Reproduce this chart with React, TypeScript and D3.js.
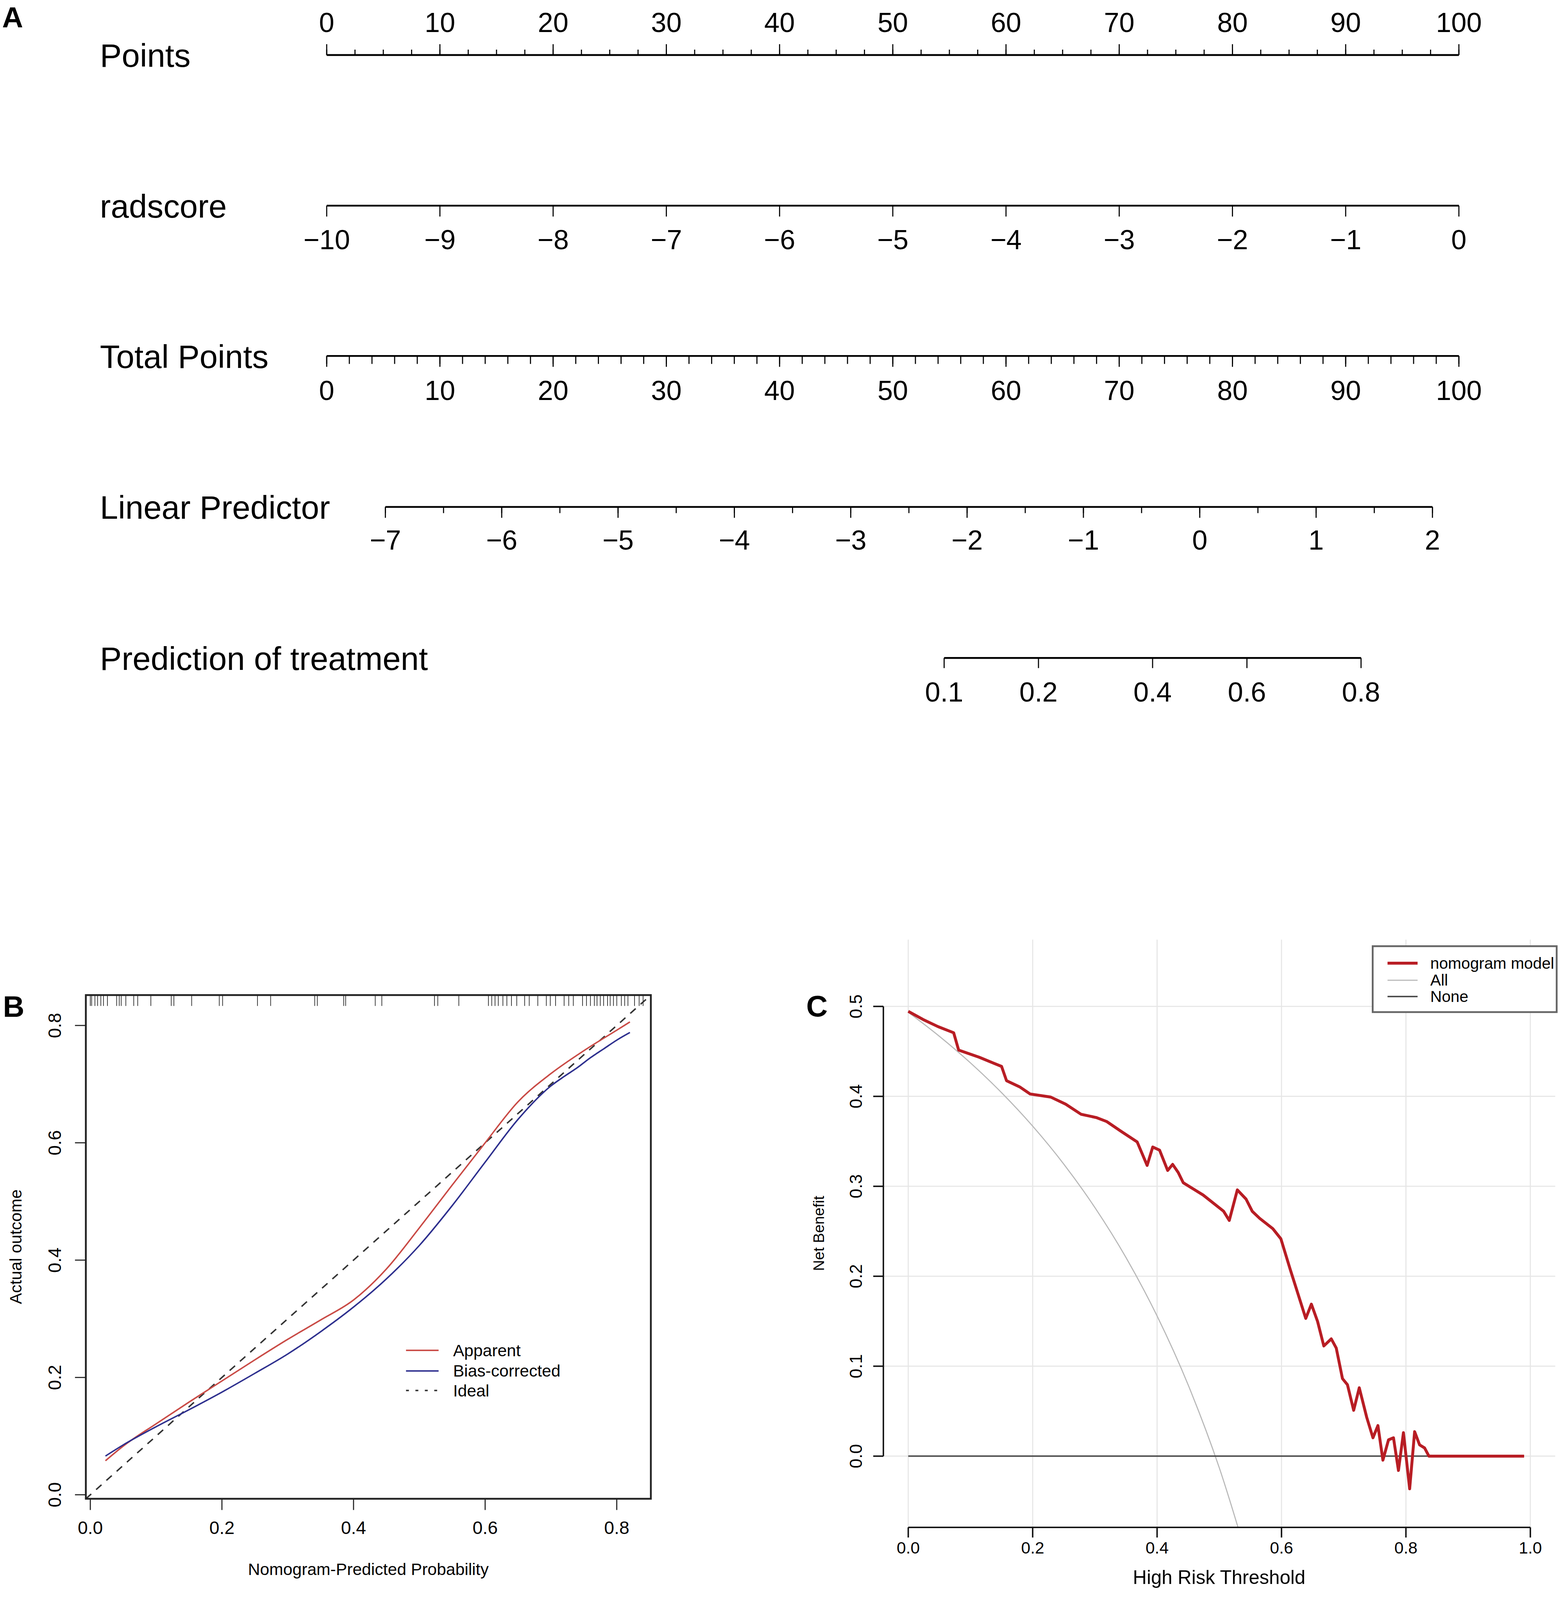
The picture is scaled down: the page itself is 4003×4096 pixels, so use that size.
import React from "react";
import * as d3 from "d3";

const W = 4003;
const H = 4096;
const K = 0.927;
const FONT = "'Liberation Sans', Arial, Helvetica, sans-serif";

// ---- panel A: nomogram ----
const rowNames = ["Points", "radscore", "Total Points", "Linear Predictor", "Prediction of treatment"];
const pointsTicks = [0, 10, 20, 30, 40, 50, 60, 70, 80, 90, 100];
const pointsMinorStep = 2.5;
const radscoreTicks = [-10, -9, -8, -7, -6, -5, -4, -3, -2, -1, 0];
const totalPointsTicks = [0, 10, 20, 30, 40, 50, 60, 70, 80, 90, 100];
const totalMinorStep = 2;
const lpTicks = [-7, -6, -5, -4, -3, -2, -1, 0, 1, 2];
const lpMinorStep = 0.5;
const predTicks = [0.1, 0.2, 0.4, 0.6, 0.8];

// ---- panel B: calibration ----
const calTicks = [0, 0.2, 0.4, 0.6, 0.8];
const apparentX = [0.023, 0.05, 0.1, 0.15, 0.2, 0.25, 0.3, 0.35, 0.4, 0.45, 0.5, 0.55, 0.6, 0.65, 0.7, 0.75, 0.8, 0.82];
const apparentY = [0.058, 0.083, 0.121, 0.158, 0.194, 0.23, 0.265, 0.298, 0.332, 0.385, 0.455, 0.528, 0.6, 0.67, 0.718, 0.757, 0.792, 0.806];
const biasX = [0.023, 0.05, 0.1, 0.15, 0.2, 0.25, 0.3, 0.35, 0.4, 0.45, 0.5, 0.55, 0.6, 0.65, 0.7, 0.72, 0.74, 0.76, 0.78, 0.8, 0.82];
const biasY = [0.066, 0.085, 0.116, 0.145, 0.175, 0.207, 0.24, 0.278, 0.32, 0.368, 0.425, 0.493, 0.567, 0.64, 0.697, 0.713, 0.728, 0.745, 0.76, 0.775, 0.788];
const rugValues = [0.0, 0.002, 0.007, 0.011, 0.016, 0.02, 0.026, 0.04, 0.044, 0.047, 0.054, 0.066, 0.072, 0.092, 0.123, 0.127,
  0.154, 0.196, 0.201, 0.254, 0.274, 0.341, 0.345, 0.385, 0.388, 0.433, 0.443, 0.523, 0.528, 0.56, 0.605, 0.61, 0.615,
  0.62, 0.627, 0.633, 0.64, 0.648, 0.66, 0.667, 0.68, 0.693, 0.699, 0.707, 0.72, 0.727, 0.734, 0.748, 0.754, 0.76, 0.766,
  0.77, 0.775, 0.78, 0.786, 0.79, 0.795, 0.8, 0.807, 0.812, 0.817, 0.827, 0.834, 0.84];
const calLegend = ["Apparent", "Bias-corrected", "Ideal"];

// ---- panel C: decision curve ----
const dcaXTicks = [0, 0.2, 0.4, 0.6, 0.8, 1.0];
const dcaYTicks = [0, 0.1, 0.2, 0.3, 0.4, 0.5];
const modelThreshold = [0, 0.024, 0.048, 0.073, 0.081, 0.114, 0.15, 0.158, 0.179, 0.196, 0.229, 0.253, 0.278, 0.302,
  0.319, 0.343, 0.368, 0.384, 0.393, 0.404, 0.417, 0.425, 0.434, 0.442, 0.474, 0.507, 0.516, 0.529, 0.543, 0.553,
  0.565, 0.586, 0.599, 0.614, 0.626, 0.639, 0.648, 0.658, 0.668, 0.68, 0.688, 0.698, 0.706, 0.716, 0.725, 0.737,
  0.747, 0.755, 0.763, 0.772, 0.78, 0.788, 0.796, 0.806, 0.814, 0.822, 0.83, 0.837, 0.99];
const modelNet = [0.4945, 0.4854, 0.4775, 0.4707, 0.4514, 0.4435, 0.4333, 0.4174, 0.4106, 0.4026, 0.3992, 0.3913, 0.38,
  0.3765, 0.372, 0.3607, 0.3493, 0.3232, 0.3437, 0.3402, 0.3176, 0.3244, 0.3153, 0.304, 0.2903, 0.2722, 0.262, 0.296,
  0.2858, 0.2722, 0.2643, 0.2529, 0.2416, 0.2076, 0.1815, 0.1531, 0.169, 0.1497, 0.1225, 0.1304, 0.1202, 0.0862,
  0.0794, 0.051, 0.076, 0.0431, 0.0204, 0.034, -0.0045, 0.0181, 0.0204, -0.0159, 0.0261, -0.0363, 0.0272, 0.0125,
  0.0091, 0, 0];
const allThreshold = [0, 0.05, 0.1, 0.15, 0.2, 0.25, 0.3, 0.35, 0.4, 0.45, 0.5, 0.55];
const allNet = [0.4935, 0.4668, 0.4372, 0.4041, 0.3669, 0.3247, 0.2764, 0.2208, 0.1558, 0.0791, -0.013, -0.1255];
const noneThreshold = [0, 0.99];
const noneNet = [0, 0];
const dcaLegend = ["nomogram model", "All", "None"];

const fmtSigned = (v: number) => (v < 0 ? "\u2212" + Math.abs(v) : String(v));

export default function App() {
  // A scales
  const ptsX = d3.scaleLinear().domain([0, 100]).range([902, 4028]);
  const radX = d3.scaleLinear().domain([-10, 0]).range([902, 4028]);
  const lpX = d3.scaleLinear().domain([-7, 2]).range([1064, 3955]);
  const predX = (p: number) => lpX(Math.log(p / (1 - p)));
  const rowY = [152, 568, 983, 1400, 1817];

  const pointsMinor = d3.range(0, 100 + 1e-9, pointsMinorStep);
  const totalMinor = d3.range(0, 100 + 1e-9, totalMinorStep);
  const lpMinor = d3.range(-7, 2 + 1e-9, lpMinorStep);

  // B scales
  const calX = d3.scaleLinear().domain([-0.0068, 0.8518]).range([237, 1797]);
  const calY = d3.scaleLinear().domain([-0.0068, 0.8518]).range([4139, 2748]);
  const calLine = d3
    .line<[number, number]>()
    .x((d) => calX(d[0]))
    .y((d) => calY(d[1]))
    .curve(d3.curveMonotoneX);
  const apparent = apparentX.map((x, i) => [x, apparentY[i]] as [number, number]);
  const bias = biasX.map((x, i) => [x, biasY[i]] as [number, number]);
  const ideal: [number, number][] = [
    [calX.domain()[0], calY.domain()[0]],
    [calX.domain()[1], calY.domain()[1]],
  ];

  // C scales
  const dcaX = d3.scaleLinear().domain([-0.04, 1.04]).range([2439, 4294]);
  const dcaY = d3.scaleLinear().domain([-0.0792, 0.5742]).range([4218, 2595]);
  const dcaLine = d3
    .line<[number, number]>()
    .x((d) => dcaX(d[0]))
    .y((d) => dcaY(d[1]));
  const dcaSmooth = d3
    .line<[number, number]>()
    .x((d) => dcaX(d[0]))
    .y((d) => dcaY(d[1]))
    .curve(d3.curveMonotoneX);
  const model = modelThreshold.map((x, i) => [x, modelNet[i]] as [number, number]);
  const all = allThreshold.map((x, i) => [x, allNet[i]] as [number, number]);
  const none = noneThreshold.map((x, i) => [x, noneNet[i]] as [number, number]);

  const calColors = ["#c94a45", "#2d2f8e", "#333333"];
  const dcaColors = ["#b81d24", "#b8b8b8", "#4a4a4a"];
  const dcaWidths = [8, 3, 4];

  return (
    <svg
      width={W}
      height={H}
      style={{ position: "absolute", left: 0, top: 0, display: "block" }}
      fontFamily={FONT}
    >
      <rect width={W} height={H} fill="#fff" />
      <defs>
        <clipPath id="calClip">
          <rect x={237} y={2748} width={1560} height={1391} />
        </clipPath>
        <clipPath id="dcaClip">
          <rect x={2439} y={2595} width={1855} height={1623} />
        </clipPath>
      </defs>
      <g transform={`scale(${K})`}>
        {/* panel letters */}
        <text x={6} y={76} fontSize={80} fontWeight="bold">A</text>
        <text x={8} y={2808} fontSize={82} fontWeight="bold">B</text>
        <text x={2226} y={2807} fontSize={82} fontWeight="bold">C</text>

        {/* ===== A ===== */}
        {rowNames.map((n, i) => (
          <text key={n} x={276} y={rowY[i] + 33} fontSize={90}>{n}</text>
        ))}

        {/* Points */}
        <g stroke="#000">
          <line x1={ptsX(0)} x2={ptsX(100)} y1={rowY[0]} y2={rowY[0]} strokeWidth={5} />
          {pointsMinor.map((v) => (
            <line key={v} x1={ptsX(v)} x2={ptsX(v)} y1={rowY[0]} y2={rowY[0] - 15} strokeWidth={3} />
          ))}
          {pointsTicks.map((v) => (
            <line key={"M" + v} x1={ptsX(v)} x2={ptsX(v)} y1={rowY[0]} y2={rowY[0] - 30} strokeWidth={3} />
          ))}
        </g>
        {pointsTicks.map((v) => (
          <text key={v} x={ptsX(v)} y={88} fontSize={76} textAnchor="middle">{v}</text>
        ))}

        {/* radscore */}
        <g stroke="#000">
          <line x1={radX(-10)} x2={radX(0)} y1={rowY[1]} y2={rowY[1]} strokeWidth={5} />
          {radscoreTicks.map((v) => (
            <line key={v} x1={radX(v)} x2={radX(v)} y1={rowY[1]} y2={rowY[1] + 30} strokeWidth={3} />
          ))}
        </g>
        {radscoreTicks.map((v) => (
          <text key={v} x={radX(v)} y={688} fontSize={76} textAnchor="middle">{fmtSigned(v)}</text>
        ))}

        {/* Total Points */}
        <g stroke="#000">
          <line x1={ptsX(0)} x2={ptsX(100)} y1={rowY[2]} y2={rowY[2]} strokeWidth={5} />
          {totalMinor.map((v) => (
            <line key={v} x1={ptsX(v)} x2={ptsX(v)} y1={rowY[2]} y2={rowY[2] + 22} strokeWidth={3} />
          ))}
          {totalPointsTicks.map((v) => (
            <line key={"M" + v} x1={ptsX(v)} x2={ptsX(v)} y1={rowY[2]} y2={rowY[2] + 30} strokeWidth={3} />
          ))}
        </g>
        {totalPointsTicks.map((v) => (
          <text key={v} x={ptsX(v)} y={1105} fontSize={76} textAnchor="middle">{v}</text>
        ))}

        {/* Linear Predictor */}
        <g stroke="#000">
          <line x1={lpX(-7)} x2={lpX(2)} y1={rowY[3]} y2={rowY[3]} strokeWidth={5} />
          {lpMinor.map((v) => (
            <line key={v} x1={lpX(v)} x2={lpX(v)} y1={rowY[3]} y2={rowY[3] + 17} strokeWidth={3} />
          ))}
          {lpTicks.map((v) => (
            <line key={"M" + v} x1={lpX(v)} x2={lpX(v)} y1={rowY[3]} y2={rowY[3] + 30} strokeWidth={3} />
          ))}
        </g>
        {lpTicks.map((v) => (
          <text key={v} x={lpX(v)} y={1518} fontSize={76} textAnchor="middle">{fmtSigned(v)}</text>
        ))}

        {/* Prediction of treatment */}
        <g stroke="#000">
          <line x1={predX(0.1)} x2={predX(0.8)} y1={rowY[4]} y2={rowY[4]} strokeWidth={5} />
          {predTicks.map((v) => (
            <line key={v} x1={predX(v)} x2={predX(v)} y1={rowY[4]} y2={rowY[4] + 28} strokeWidth={3} />
          ))}
        </g>
        {predTicks.map((v) => (
          <text key={v} x={predX(v)} y={1937} fontSize={76} textAnchor="middle">{v}</text>
        ))}

        {/* ===== B ===== */}
        <g clipPath="url(#calClip)" fill="none">
          <path d={calLine(ideal) || ""} stroke="#333" strokeWidth={4} strokeDasharray="20 18" />
          <path d={calLine(apparent) || ""} stroke={calColors[0]} strokeWidth={4} />
          <path d={calLine(bias) || ""} stroke={calColors[1]} strokeWidth={4} />
        </g>
        <g stroke="#333" strokeWidth={2}>
          {rugValues.map((v, i) => (
            <line key={i} x1={calX(v)} x2={calX(v)} y1={2748} y2={2778} />
          ))}
        </g>
        <rect x={237} y={2748} width={1560} height={1391} fill="none" stroke="#222" strokeWidth={5} />
        <g stroke="#222" strokeWidth={3}>
          {calTicks.map((t) => (
            <line key={"y" + t} x1={237} x2={207} y1={calY(t)} y2={calY(t)} />
          ))}
          {calTicks.map((t) => (
            <line key={"x" + t} x1={calX(t)} x2={calX(t)} y1={4139} y2={4170} />
          ))}
        </g>
        {calTicks.map((t) => (
          <text key={"yl" + t} transform={`translate(168,${calY(t)}) rotate(-90)`} fontSize={50} textAnchor="middle">
            {t.toFixed(1)}
          </text>
        ))}
        {calTicks.map((t) => (
          <text key={"xl" + t} x={calX(t)} y={4236} fontSize={50} textAnchor="middle">
            {t.toFixed(1)}
          </text>
        ))}
        <text x={1017} y={4350} fontSize={46} textAnchor="middle">Nomogram-Predicted Probability</text>
        <text transform="translate(59,3443) rotate(-90)" fontSize={46} textAnchor="middle">Actual outcome</text>
        {calLegend.map((n, i) => {
          const y = [3729, 3786, 3840][i];
          return (
            <g key={n}>
              <line
                x1={1121}
                x2={1211}
                y1={y}
                y2={y}
                stroke={calColors[i]}
                strokeWidth={4}
                strokeDasharray={i === 2 ? "8 18" : undefined}
              />
              <text x={1251} y={y + 16} fontSize={46}>{n}</text>
            </g>
          );
        })}

        {/* ===== C ===== */}
        <g stroke="#e6e6e6" strokeWidth={3}>
          {dcaXTicks.map((t) => (
            <line key={"gx" + t} x1={dcaX(t)} x2={dcaX(t)} y1={2595} y2={4218} />
          ))}
          {dcaYTicks.map((t) => (
            <line key={"gy" + t} x1={2439} x2={4294} y1={dcaY(t)} y2={dcaY(t)} />
          ))}
        </g>
        <g clipPath="url(#dcaClip)" fill="none" strokeLinejoin="round">
          <path d={dcaSmooth(all) || ""} stroke={dcaColors[1]} strokeWidth={dcaWidths[1]} />
          <path d={dcaLine(none) || ""} stroke={dcaColors[2]} strokeWidth={dcaWidths[2]} />
          <path d={dcaLine(model) || ""} stroke={dcaColors[0]} strokeWidth={dcaWidths[0]} />
        </g>
        <g stroke="#111" strokeWidth={4}>
          <line x1={2439} x2={2439} y1={dcaY(0)} y2={dcaY(0.5)} />
          {dcaYTicks.map((t) => (
            <line key={"ty" + t} x1={2439} x2={2411} y1={dcaY(t)} y2={dcaY(t)} />
          ))}
          <line x1={dcaX(0)} x2={dcaX(1)} y1={4218} y2={4218} />
          {dcaXTicks.map((t) => (
            <line key={"tx" + t} x1={dcaX(t)} x2={dcaX(t)} y1={4218} y2={4246} />
          ))}
        </g>
        {dcaYTicks.map((t) => (
          <text key={"yl" + t} transform={`translate(2380,${dcaY(t)}) rotate(-90)`} fontSize={48} textAnchor="middle">
            {t.toFixed(1)}
          </text>
        ))}
        {dcaXTicks.map((t) => (
          <text key={"xl" + t} x={dcaX(t)} y={4290} fontSize={46} textAnchor="middle">
            {t.toFixed(1)}
          </text>
        ))}
        <text x={3366} y={4374} fontSize={53} textAnchor="middle">High Risk Threshold</text>
        <text transform="translate(2275,3406) rotate(-90)" fontSize={42} textAnchor="middle">Net Benefit</text>

        <rect x={3790} y={2613} width={508} height={182} fill="#fff" stroke="#666" strokeWidth={5} />
        {dcaLegend.map((n, i) => {
          const y = [2660, 2707, 2752][i];
          return (
            <g key={n}>
              <line x1={3831} x2={3914} y1={y} y2={y} stroke={dcaColors[i]} strokeWidth={dcaWidths[i]} />
              <text x={3949} y={y + 15} fontSize={44}>{n}</text>
            </g>
          );
        })}
      </g>
    </svg>
  );
}
